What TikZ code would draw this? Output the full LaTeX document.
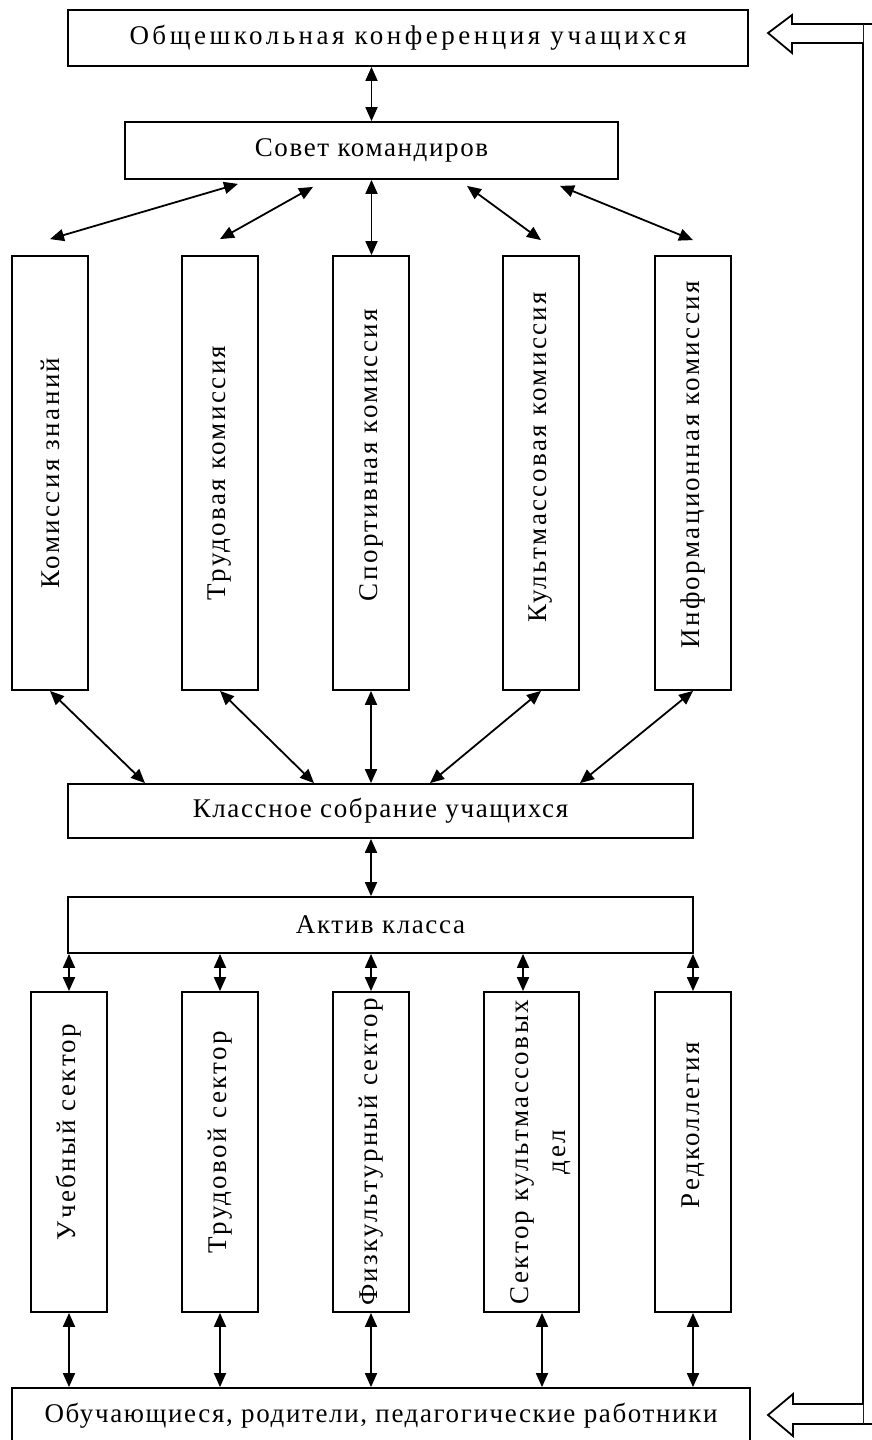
\documentclass[tikz,border=0pt]{standalone}
\usepackage{fontspec}
\setmainfont{Liberation Serif}
\newfontfamily\hfont{Liberation Serif}[LetterSpace=6]
\newfontfamily\vfont{Liberation Serif}[LetterSpace=9]
\newfontfamily\tfont{Liberation Serif}[LetterSpace=13]
\usetikzlibrary{arrows.meta}

\begin{document}
\begin{tikzpicture}[x=1pt,y=-1pt,
    box/.style={draw, line width=1.8pt, inner sep=0pt},
    hbox/.style={box, minimum height=56, font=\fontsize{27}{31}\hfont},
    vbox/.style={box, minimum width=76, font=\fontsize{27}{31}\vfont},
    link/.style={line width=1.8pt, {Triangle[length=14pt,width=12pt]}-{Triangle[length=14pt,width=12pt]}},
    blockarrow/.style={line width=1.8pt, fill=white, line join=miter}]
        \useasboundingbox (0,0) rectangle (872,1440);
        % top level
        \node [hbox, minimum width=680, font=\fontsize{27}{31}\tfont] (conf) at (408,38) {Общешкольная конференция учащихся};
        \node [hbox, minimum width=493, minimum height=57] (sovet) at (371.5,150.5) {Совет командиров};
        % commissions
        \node [vbox, minimum height=434] (k1) at (50,473) {\rotatebox{90}{Комиссия знаний}};
        \node [vbox, minimum height=434] (k2) at (220,473) {\rotatebox{90}{Трудовая комиссия}};
        \node [vbox, minimum height=434] (k3) at (371,473) {\rotatebox{90}{\hspace*{36pt}Спортивная комиссия}};
        \node [vbox, minimum height=434] (k4) at (541,473) {\rotatebox{90}{\hspace*{32pt}Культмассовая комиссия}};
        \node [vbox, minimum height=434] (k5) at (693,473) {\rotatebox{90}{\hspace*{16pt}Информационная комиссия}};
        % class level
        \node [hbox, minimum width=625, minimum height=54] (klass) at (380.5,811) {Классное собрание учащихся};
        \node [hbox, minimum width=625] (aktiv) at (380.5,925) {Актив класса};
        % sectors
        \node [vbox, minimum height=320] (s1) at (69,1152) {\rotatebox{90}{\hspace*{40pt}Учебный сектор}};
        \node [vbox, minimum height=320] (s2) at (220,1152) {\rotatebox{90}{\hspace*{20pt}Трудовой сектор}};
        \node [vbox, minimum height=320] (s3) at (371,1152) {\rotatebox{90}{Физкультурный сектор}};
        \node [vbox, minimum width=95, minimum height=320] (s4) at (531.5,1152) {\hspace*{18pt}\rotatebox{90}{\begin{tabular}{@{}c@{}}Сектор культмассовых\\[6pt]дел\end{tabular}}};
        \node [vbox, minimum height=320] (s5) at (693,1152) {\rotatebox{90}{\hspace*{54pt}Редколлегия}};
        \node [hbox, minimum width=738, minimum height=55] (people) at (381,1415.5) {Обучающиеся, родители, педагогические работники};

        % links
        \draw [link] (sovet.north) -- (sovet.north |- conf.south);
        \draw [link] ([xshift=-133.5pt,yshift=-4pt]sovet.south) -- ([yshift=16pt]k1.north);
        \draw [link] ([xshift=-58.5pt,yshift=-7pt]sovet.south) -- ([yshift=16pt]k2.north);
        \draw [link] (sovet.south) -- (sovet.south |- k3.north);
        \draw [link] ([xshift=95.5pt,yshift=-6pt]sovet.south) -- ([yshift=15pt]k4.north);
        \draw [link] ([xshift=188.5pt,yshift=-6pt]sovet.south) -- ([yshift=15pt]k5.north);
        \draw [link] (k1.south) -- ([xshift=-235.5pt]klass.north);
        \draw [link] (k2.south) -- ([xshift=-66.5pt]klass.north);
        \draw [link] (k3.south) -- (k3.south |- klass.north);
        \draw [link] (k4.south) -- ([xshift=49.5pt]klass.north);
        \draw [link] (k5.south) -- ([xshift=199.5pt]klass.north);
        \draw [link] (k3.south |- klass.south) -- (k3.south |- aktiv.north);
        \draw [link] (s1.north) -- (s1.north |- aktiv.south);
        \draw [link] (s2.north) -- (s2.north |- aktiv.south);
        \draw [link] (s3.north) -- (s3.north |- aktiv.south);
        \draw [link] ([xshift=-8.5pt]s4.north) -- ([xshift=-8.5pt]s4.north |- aktiv.south);
        \draw [link] (s5.north) -- (s5.north |- aktiv.south);
        \draw [link] (s1.south) -- (s1.south |- people.north);
        \draw [link] (s2.south) -- (s2.south |- people.north);
        \draw [link] (s3.south) -- (s3.south |- people.north);
        \draw [link] ([xshift=10.5pt]s4.south) -- ([xshift=10.5pt]s4.south |- people.north);
        \draw [link] (s5.south) -- (s5.south |- people.north);

        % feedback line with block arrows
        \coordinate (fbtop) at (863,24);
        \coordinate (fbbot) at (863,1424);
        \draw [line width=1.8pt] (872,24) -- (fbtop) -- (fbbot) -- (872,1424);
        \draw [blockarrow] (fbtop) -- ++(-71,0) -- ++(0,-9) -- ++(-24,18) -- ++(24,20) -- ++(0,-10) -- ++(71,0);
        \draw [blockarrow] (fbbot) -- ++(-70,0) -- ++(0,12) -- ++(-25,-21) -- ++(25,-21) -- ++(0,10) -- ++(70,0);
\end{tikzpicture}
\end{document}
